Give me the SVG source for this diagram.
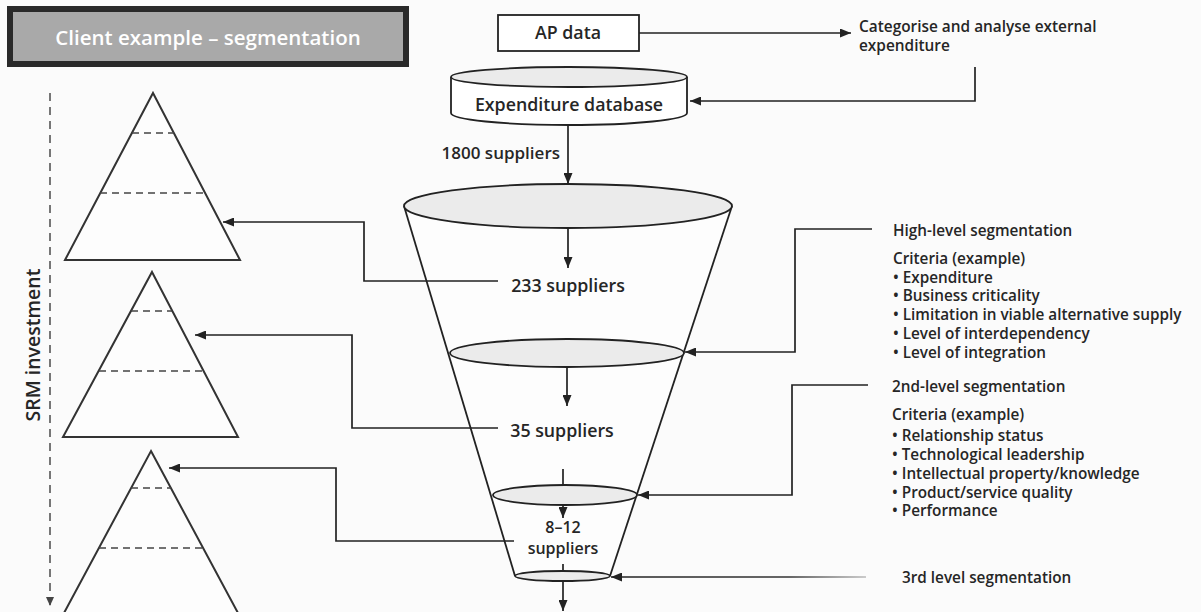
<svg xmlns="http://www.w3.org/2000/svg" width="1201" height="612" viewBox="0 0 1201 612">
  <style>
    text { font-family: "Open Sans", "Liberation Sans", sans-serif; fill: #262626; font-weight: 600; }
    .ln { fill: none; stroke: #222; stroke-width: 1.8; }
    .conn { fill: none; stroke: #222; stroke-width: 1.7; }
    .pyr { fill: #fdfdfd; stroke: #333; stroke-width: 2; }
    .tier { stroke: #444; stroke-width: 1.5; stroke-dasharray: 7 5; }
    .disc { fill: #ebebeb; stroke: #222; stroke-width: 1.8; }
    .lbl { font-size: 17.8px; text-anchor: middle; }
    .note { font-size: 15.3px; }
  </style>
  <defs>
    <marker id="arrow" markerUnits="userSpaceOnUse" markerWidth="12" markerHeight="9" refX="11" refY="4.5" orient="auto">
      <path d="M0,0 L11,4.5 L0,9 z" fill="#222"/>
    </marker>
    <marker id="arrowSmall" markerUnits="userSpaceOnUse" markerWidth="10" markerHeight="8" refX="9" refY="4" orient="auto">
      <path d="M0,0 L9,4 L0,8 z" fill="#444"/>
    </marker>
    <linearGradient id="fade" gradientUnits="userSpaceOnUse" x1="610" y1="0" x2="866" y2="0">
      <stop offset="0" stop-color="#222"/>
      <stop offset="0.7" stop-color="#333"/>
      <stop offset="1" stop-color="#bbb"/>
    </linearGradient>
  </defs>

  <rect width="1201" height="612" fill="#fbfbfb"/>

  <!-- heading banner -->
  <g id="title">
    <rect x="10" y="9" width="396" height="55" fill="#a9a9a9" stroke="#2a2a2a" stroke-width="6"/>
    <text x="208" y="45" font-size="20.5" text-anchor="middle" style="fill:#fff">Client example – segmentation</text>
  </g>

  <!-- SRM investment axis -->
  <g id="srm-axis">
    <line x1="50" y1="93" x2="50" y2="606" stroke="#555" stroke-width="1.6" stroke-dasharray="8 6" marker-end="url(#arrowSmall)"/>
    <text transform="translate(40,345) rotate(-90)" font-size="19.5" font-weight="500" text-anchor="middle">SRM investment</text>
  </g>

  <!-- pyramids -->
  <g id="pyramid-1">
    <polygon class="pyr" points="153,93 240,260 65,260"/>
    <line class="tier" x1="132" y1="133" x2="174" y2="133"/>
    <line class="tier" x1="100" y1="193" x2="205" y2="193"/>
  </g>
  <g id="pyramid-2">
    <polygon class="pyr" points="152,272 238,437 63,437"/>
    <line class="tier" x1="131" y1="311" x2="172" y2="311"/>
    <line class="tier" x1="99" y1="371" x2="204" y2="371"/>
  </g>
  <g id="pyramid-3">
    <polygon class="pyr" points="151,451 238,613 64,613"/>
    <line class="tier" x1="131" y1="488" x2="171" y2="488"/>
    <line class="tier" x1="99" y1="548" x2="203" y2="548"/>
  </g>

  <!-- AP data -->
  <g id="ap-data">
    <rect x="498" y="15" width="141" height="36" fill="#fff" stroke="#222" stroke-width="1.8"/>
    <text class="lbl" x="568" y="39">AP data</text>
  </g>

  <!-- categorise step -->
  <g id="categorise">
    <text x="859" y="32" font-size="15.4">Categorise and analyse external</text>
    <text x="859" y="51" font-size="15.4">expenditure</text>
  </g>

  <!-- expenditure database cylinder -->
  <g id="expenditure-db">
    <path d="M451,77 V113 A118,12 0 0 0 687,113 V77" fill="#fff" stroke="#222" stroke-width="1.8"/>
    <ellipse cx="569" cy="77" rx="118" ry="10" class="disc"/>
    <text class="lbl" x="569" y="111">Expenditure database</text>
  </g>

  <!-- supplier funnel -->
  <g id="funnel">
    <polygon points="404,206 732,206 610,576 515,576" fill="#fdfdfd"/>
    <line class="ln" x1="404" y1="206" x2="515" y2="576"/>
    <line class="ln" x1="732" y1="206" x2="610" y2="576"/>
    <ellipse cx="568" cy="206" rx="164" ry="22" class="disc"/>
    <ellipse cx="567" cy="353" rx="117" ry="14" class="disc"/>
    <ellipse cx="565" cy="495" rx="72" ry="10" class="disc"/>
    <ellipse cx="562.5" cy="576" rx="47.5" ry="5" class="disc"/>
  </g>

  <g id="count-1800">
    <text x="560" y="159" font-size="17" text-anchor="end">1800 suppliers</text>
  </g>
  <g id="count-233">
    <text class="lbl" x="568" y="292">233 suppliers</text>
  </g>
  <g id="count-35">
    <text class="lbl" x="562" y="437">35 suppliers</text>
  </g>

  <!-- segmentation notes -->
  <g id="high-level">
    <text class="note" x="893" y="236">High-level segmentation</text>
    <text class="note" x="893" y="264">Criteria (example)</text>
    <text class="note" x="893" y="282.7">• Expenditure</text>
    <text class="note" x="893" y="301.4">• Business criticality</text>
    <text class="note" x="893" y="320.1">• Limitation in viable alternative supply</text>
    <text class="note" x="893" y="338.8">• Level of interdependency</text>
    <text class="note" x="893" y="357.5">• Level of integration</text>
  </g>
  <g id="second-level">
    <text class="note" x="892" y="392">2nd-level segmentation</text>
    <text class="note" x="892" y="419.5">Criteria (example)</text>
    <text class="note" x="892" y="440.5">• Relationship status</text>
    <text class="note" x="892" y="459.5">• Technological leadership</text>
    <text class="note" x="892" y="478.5">• Intellectual property/knowledge</text>
    <text class="note" x="892" y="497.5">• Product/service quality</text>
    <text class="note" x="892" y="516">• Performance</text>
  </g>
  <g id="third-level">
    <text class="note" x="902" y="583">3rd level segmentation</text>
  </g>

  <!-- connectors -->
  <g id="connectors">
    <line class="conn" x1="639" y1="33" x2="851" y2="33" marker-end="url(#arrow)"/>
    <path class="conn" d="M975,67 V101 H690" marker-end="url(#arrow)"/>
    <line class="conn" x1="568" y1="125" x2="568" y2="184" marker-end="url(#arrow)"/>
    <line class="conn" x1="568" y1="228" x2="568" y2="268" marker-end="url(#arrow)"/>
    <line class="conn" x1="567" y1="367" x2="567" y2="406" marker-end="url(#arrow)"/>
    <line class="conn" x1="563" y1="469" x2="563" y2="485"/>
    <line class="conn" x1="563" y1="505" x2="563" y2="518" marker-end="url(#arrow)"/>
    <line class="conn" x1="563" y1="564" x2="563" y2="571"/>
    <line class="conn" x1="563" y1="581" x2="563" y2="611" marker-end="url(#arrow)"/>

    <path class="conn" d="M498,281 H364 V222 H223" marker-end="url(#arrow)"/>
    <path class="conn" d="M498,428 H352 V335 H195" marker-end="url(#arrow)"/>
    <path class="conn" d="M514,541 H336 V468 H169" marker-end="url(#arrow)"/>

    <path class="conn" d="M872,229 H795 V352 H685" marker-end="url(#arrow)"/>
    <path class="conn" d="M868,385 H792 V495 H638" marker-end="url(#arrow)"/>
    <line x1="866" y1="577" x2="611" y2="577" fill="none" stroke="url(#fade)" stroke-width="1.7" marker-end="url(#arrow)"/>
  </g>

  <g id="count-8-12">
    <text x="563" y="533" font-size="16" text-anchor="middle">8–12</text>
    <text x="563" y="554" font-size="16" text-anchor="middle">suppliers</text>
  </g>
</svg>
